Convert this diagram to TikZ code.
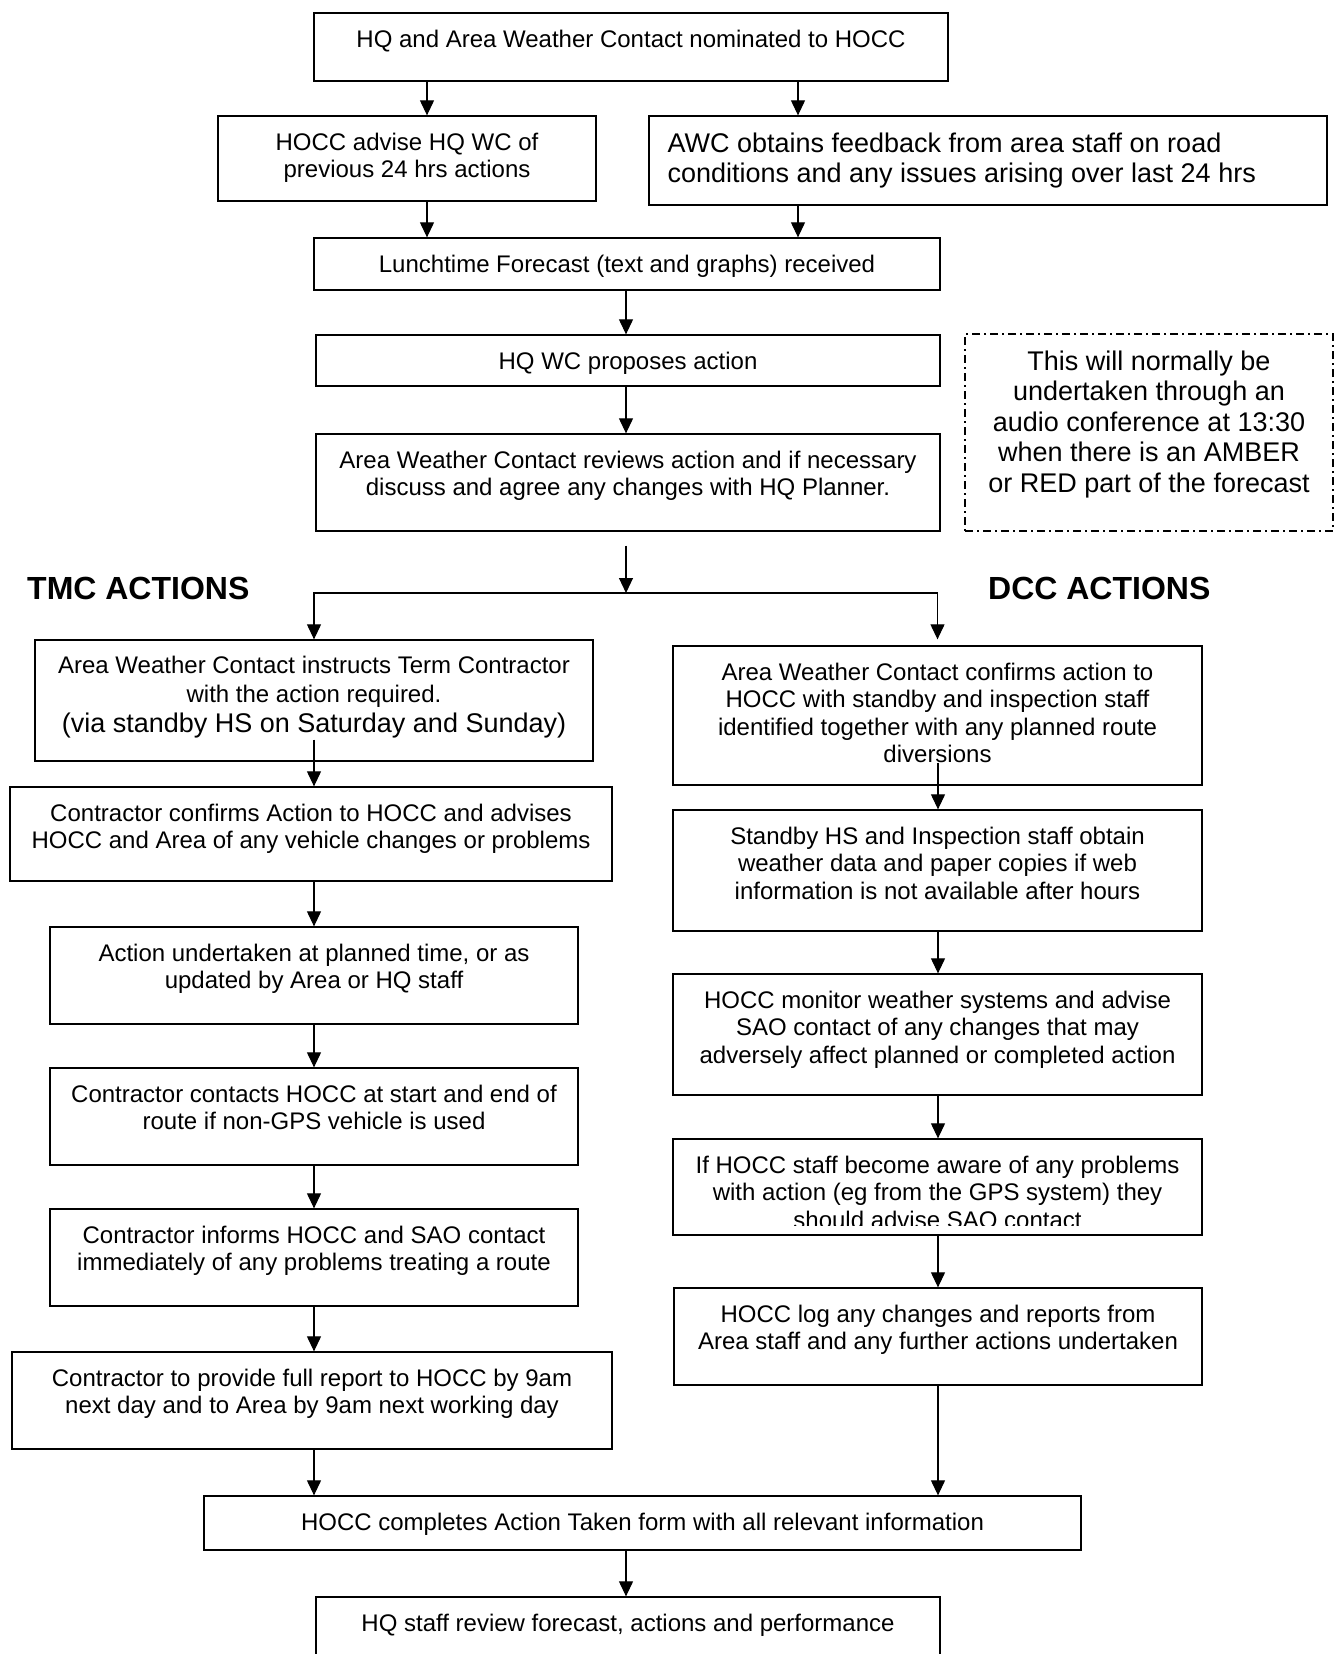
\documentclass[tikz,border=0pt]{standalone}
\usepackage{fontspec}
\setmainfont{Liberation Sans}
\usetikzlibrary{arrows.meta, calc}

\begin{document}
\begin{tikzpicture}[x=1pt, y=-1pt,
        flowbox/.style={draw, line width=1.3pt, inner sep=0pt},
        boxtext/.style={font=\fontsize{24}{27.5}\selectfont, align=center, inner xsep=6pt, inner ysep=17.5pt},
        bigtext/.style={font=\fontsize{27}{30.5}\selectfont},
        heading/.style={font=\fontsize{32}{36}\selectfont\bfseries, anchor=west, inner sep=0pt},
        arr/.style={line width=1.1pt, -{Triangle[length=15pt, width=14pt]}},
        notebox/.style={draw, line width=1.1pt, dash pattern=on 8pt off 4pt on 2pt off 4pt}]
                        \useasboundingbox (0,0) rectangle (1335,1654);
                        \clip (0,0) rectangle (1335,1654);
                        \coordinate (colA) at (427,0);
                        \coordinate (colB) at (798,0);
                        \coordinate (colM) at (626,0);
                        \coordinate (colL) at (314,0);
                        \coordinate (colR) at (938,0);
                        \node[flowbox, minimum width=634pt, minimum height=68pt,
                            label={[boxtext, anchor=north]north:HQ and Area Weather Contact nominated to HOCC}] (nominate) at (631,47) {};
                        \node[flowbox, minimum width=378pt, minimum height=85pt,
                            label={[boxtext, anchor=north]north:{HOCC advise HQ WC of\\previous 24 hrs actions}}] (hoccadvise) at (407,158.5) {};
                        \node[flowbox, minimum width=678pt, minimum height=89pt,
                            label={[boxtext, bigtext, align=left, anchor=north west, inner xsep=19pt, inner ysep=17pt]north west:{AWC obtains feedback from area staff on road\\conditions and any issues arising over last 24 hrs}}] (feedback) at (988,160.5) {};
                        \node[flowbox, minimum width=626pt, minimum height=52pt,
                            label={[boxtext, anchor=north]north:{Lunchtime Forecast (text and graphs) received}}] (lunch) at (627,264) {};
                        \node[flowbox, minimum width=624pt, minimum height=51pt,
                            label={[boxtext, anchor=north]north:HQ WC proposes action}] (propose) at (628,360.5) {};
                        \node[flowbox, minimum width=624pt, minimum height=97pt,
                            label={[boxtext, anchor=north]north:{Area Weather Contact reviews action and if necessary\\discuss and agree any changes with HQ Planner.}}] (review) at (628,482.5) {};
                        \node[notebox, minimum width=368pt, minimum height=197pt,
                            label={[boxtext, bigtext, anchor=north, inner ysep=17pt]north:{This will normally be\\undertaken through an\\audio conference at 13:30\\when there is an AMBER\\or RED part of the forecast}}] (note) at (1149,432.5) {};
                        \node[heading] (tmchead) at (27,588) {TMC ACTIONS};
                        \node[heading] (dcchead) at (988,588) {DCC ACTIONS};
                        \node[flowbox, minimum width=558pt, minimum height=121pt,
                            label={[boxtext, anchor=north, inner ysep=17pt]north:{Area Weather Contact instructs Term Contractor\\[1.5pt]with the action required.\\[2pt]{\fontsize{27}{30.5}\selectfont (via standby HS on Saturday and Sunday)}}}] (instruct) at (314,700.5) {};
                        \node[flowbox, minimum width=602pt, minimum height=94pt,
                            label={[boxtext, anchor=north]north:{Contractor confirms Action to HOCC and advises\\HOCC and Area of any vehicle changes or problems}}] (contrconfirm) at (311,834) {};
                        \node[flowbox, minimum width=528pt, minimum height=97pt,
                            label={[boxtext, anchor=north]north:{Action undertaken at planned time, or as\\updated by Area or HQ staff}}] (undertaken) at (314,975.5) {};
                        \node[flowbox, minimum width=528pt, minimum height=97pt,
                            label={[boxtext, anchor=north]north:{Contractor contacts HOCC at start and end of\\route if non-GPS vehicle is used}}] (contacts) at (314,1116.5) {};
                        \node[flowbox, minimum width=528pt, minimum height=97pt,
                            label={[boxtext, anchor=north]north:{Contractor informs HOCC and SAO contact\\immediately of any problems treating a route}}] (informs) at (314,1257.5) {};
                        \node[flowbox, minimum width=600pt, minimum height=97pt,
                            label={[boxtext, anchor=north]north:{Contractor to provide full report to HOCC by 9am\\next day and to Area by 9am next working day}}] (report) at (312,1400.5) {};
                        \node[flowbox, minimum width=529pt, minimum height=139pt,
                            label={[boxtext, anchor=north]north:{Area Weather Contact confirms action to\\HOCC with standby and inspection staff\\identified together with any planned route\\diversions}}] (awcconfirm) at (937.5,715.5) {};
                        \node[flowbox, minimum width=529pt, minimum height=121pt,
                            label={[boxtext, anchor=north]north:{Standby HS and Inspection staff obtain\\weather data and paper copies if web\\information is not available after hours}}] (standby) at (937.5,870.5) {};
                        \node[flowbox, minimum width=529pt, minimum height=121pt,
                            label={[boxtext, anchor=north]north:{HOCC monitor weather systems and advise\\SAO contact of any changes that may\\adversely affect planned or completed action}}] (monitor) at (937.5,1034.5) {};
                        \node[flowbox, minimum width=529pt, minimum height=96pt] (aware) at (937.5,1187) {};
                        \begin{scope}
                            \clip (673,1139) rectangle (1202,1225);
                            \node[boxtext, anchor=north] (awaretext) at (aware.north) {If HOCC staff become aware of any problems\\with action (eg from the GPS system) they\\should advise SAO contact};
                        \end{scope}
                        \node[flowbox, minimum width=528pt, minimum height=97pt,
                            label={[boxtext, anchor=north]north:{HOCC log any changes and reports from\\Area staff and any further actions undertaken}}] (logchanges) at (938,1336.5) {};
                        \node[flowbox, minimum width=877pt, minimum height=54pt,
                            label={[boxtext, anchor=north]north:HOCC completes Action Taken form with all relevant information}] (complete) at (642.5,1523) {};
                        \node[flowbox, minimum width=624pt, minimum height=90pt,
                            label={[boxtext, anchor=north]north:{HQ staff review forecast, actions and performance}}] (hqreview) at (628,1642) {};
                        \coordinate (split) at (626,593);
                        \coordinate (reviewout) at ($(review.south -| colM)+(0,14)$);
                        \coordinate (instructout) at ($(instruct.south -| colL)+(0,-22)$);
                        \coordinate (awcout) at ($(awcconfirm.south -| colR)+(0,-23)$);
                        \coordinate (awcin) at ($(awcconfirm.north)+(0,-6)$);
                        \draw[arr] (nominate.south -| colA) -- (hoccadvise.north -| colA);
                        \draw[arr] (nominate.south -| colB) -- (feedback.north -| colB);
                        \draw[arr] (hoccadvise.south -| colA) -- (lunch.north -| colA);
                        \draw[arr] (feedback.south -| colB) -- (lunch.north -| colB);
                        \draw[arr] (lunch.south -| colM) -- (propose.north -| colM);
                        \draw[arr] (propose.south -| colM) -- (review.north -| colM);
                        \draw[arr] (reviewout) -- (split);
                        \draw[arr] (split) -| (instruct.north);
                        \draw[arr] (split) -| (awcin);
                        \draw[arr] (instructout) -- (contrconfirm.north -| colL);
                        \draw[arr] (contrconfirm.south -| colL) -- (undertaken.north -| colL);
                        \draw[arr] (undertaken.south -| colL) -- (contacts.north -| colL);
                        \draw[arr] (contacts.south -| colL) -- (informs.north -| colL);
                        \draw[arr] (informs.south -| colL) -- (report.north -| colL);
                        \draw[arr] (report.south -| colL) -- (complete.north -| colL);
                        \draw[arr] (awcout) -- (standby.north -| colR);
                        \draw[arr] (standby.south -| colR) -- (monitor.north -| colR);
                        \draw[arr] (monitor.south -| colR) -- (aware.north -| colR);
                        \draw[arr] (aware.south -| colR) -- (logchanges.north -| colR);
                        \draw[arr] (logchanges.south -| colR) -- (complete.north -| colR);
                        \draw[arr] (complete.south -| colM) -- (hqreview.north -| colM);
\end{tikzpicture}
\end{document}
